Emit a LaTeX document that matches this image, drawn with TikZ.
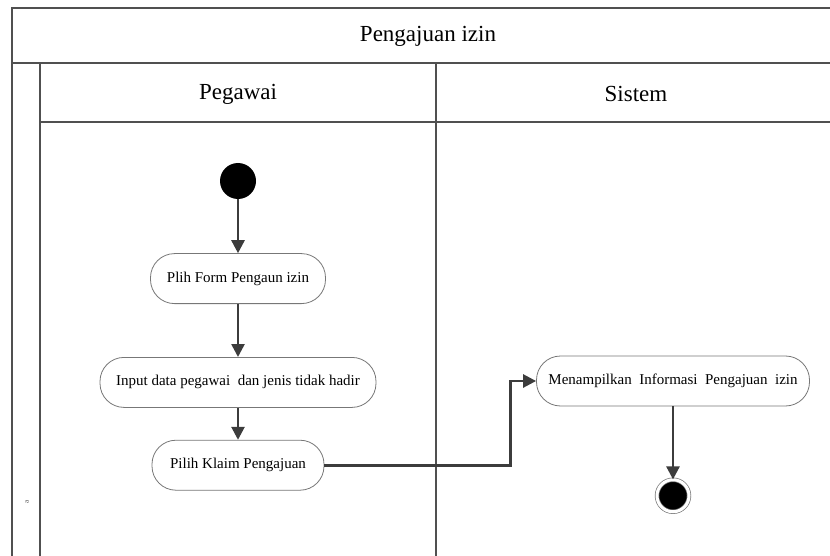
\documentclass[tikz,border=0pt]{standalone}
\usepackage{fontspec}
\setmainfont{Liberation Serif}
\usetikzlibrary{shapes.geometric, arrows.meta, positioning}
\definecolor{laneline}{HTML}{505050}
\definecolor{flowline}{HTML}{3C3C3C}
\definecolor{boxline}{HTML}{777777}

\begin{document}
\begin{tikzpicture}[
  x=1pt, y=-1pt,
  lane/.style={draw=laneline, line width=1.3pt},
  header/.style={font=\fontsize{23}{26}\selectfont},
  startnode/.style={circle, fill=black, minimum size=36pt, inner sep=0pt},
  stopnode/.style={circle, fill=black, draw=boxline, double=white, double distance=3pt, line width=0.7pt, minimum size=32pt, inner sep=0pt},
  action/.style={rectangle, draw=boxline, line width=0.8pt, fill=white, rounded corners=24pt, minimum height=50pt, align=center, font=\fontsize{15}{17}\selectfont},
  arrow/.style={-{Triangle[length=13pt, width=13pt]}, line width=2.6pt, draw=flowline}
]
  \useasboundingbox (0,0) rectangle (830,556);

  % swimlanes
  \draw[lane] (12,556) -- (12,8) -- (832,8);
  \draw[lane] (12,63) -- (832,63);
  \draw[lane] (40,122) -- (832,122);
  \draw[lane] (40,63) -- (40,556);
  \draw[lane] (436,63) -- (436,556);

  \node[header] (ttl) at (428,36) {Pengajuan izin};
  \node[header] (hdrpeg) at (238,94) {Pegawai};
  \node[header] (hdrsis) at (636,94) {Sistem};
  \node[rotate=90, font=\fontsize{7}{7}\selectfont, text=black!75] (lbl) at (27,502) {a};

  % pegawai
  \node[startnode] (s) at (238,181) {};
  \node[action, minimum width=175pt, below=54pt of s] (form) {Plih Form Pengaun izin};
  \node[action, minimum width=276pt, below=53pt of form] (input) {Input data pegawai\ \ dan jenis tidak hadir};
  \node[action, minimum width=172pt, below=32pt of input] (klaim) {Pilih Klaim Pengajuan};

  % sistem
  \node[action, minimum width=273pt] (info) at (673,381) {Menampilkan\ \ Informasi\ \ Pengajuan\ \ izin};
  \node[stopnode, below=73pt of info] (e) {};

  \draw[arrow] (s) -- (form);
  \draw[arrow] (form) -- (input);
  \draw[arrow] (input) -- (klaim);
  \draw[arrow] (klaim.east) -- ++(186,0) |- (info.west);
  \draw[arrow] (info) -- (e);
\end{tikzpicture}
\end{document}
